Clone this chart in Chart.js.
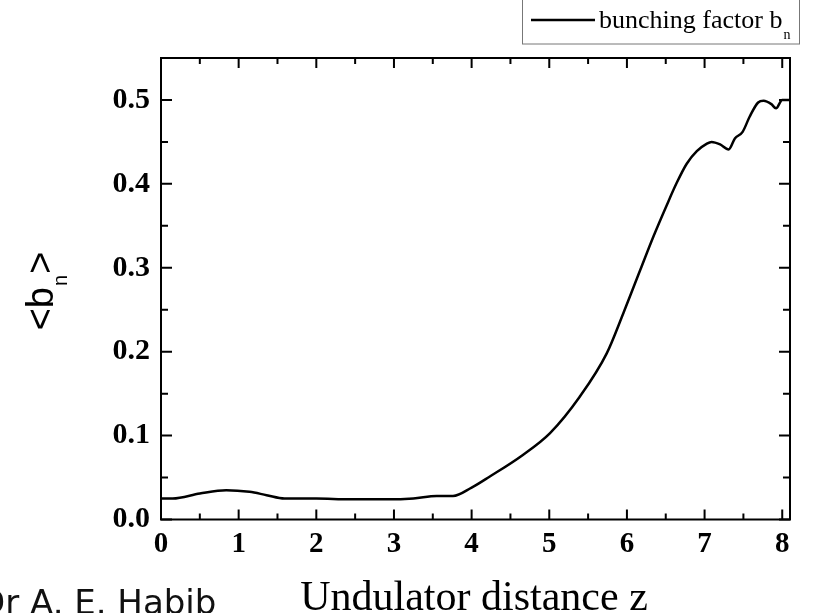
<!DOCTYPE html>
<html>
<head>
<meta charset="utf-8">
<script src="https://cdn.jsdelivr.net/npm/chart.js@4"></script>
<style>
  html, body { margin: 0; padding: 0; background: #fff; }
  #wrap { position: relative; width: 818px; height: 613px; }
</style>
</head>
<body>
<div id="wrap"><canvas id="chart" width="818" height="613"></canvas></div>
<script>
"use strict";

// undulator distance z and averaged bunching factor <b_n>
const zValues = [0, 0.15, 0.5, 0.84, 1.14, 1.36, 1.59, 2.0, 2.43, 2.9, 3.25, 3.55, 3.76, 4.0, 4.23,
    4.66, 5.01, 5.39, 5.74, 5.95, 6.17, 6.34, 6.51, 6.64, 6.77, 6.9, 7.03, 7.09, 7.2, 7.31, 7.39,
    7.49, 7.58, 7.69, 7.76, 7.86, 7.92, 8.0, 8.1];
const bValues = [0.025, 0.025, 0.031, 0.035, 0.033, 0.029, 0.025, 0.025, 0.024, 0.024, 0.025, 0.028, 0.028, 0.038, 0.051,
    0.077, 0.103, 0.146, 0.198, 0.245, 0.297, 0.337, 0.374, 0.401, 0.424, 0.439, 0.448, 0.45, 0.447, 0.441, 0.454,
    0.462, 0.48, 0.497, 0.499, 0.495, 0.49, 0.5, 0.5];

const xTicks = [0, 1, 2, 3, 4, 5, 6, 7, 8];
const yTicks = [0.0, 0.1, 0.2, 0.3, 0.4, 0.5];
const xMinorStep = 0.5;
const yMinorStep = 0.05;

const seriesLabel = 'bunching factor b';
const xTitle = 'Undulator distance z';

// frame, inside ticks, titles and legend
const framePlugin = {
    id: 'frame',
    afterDraw(chart) {
        const ctx = chart.ctx;
        const a = chart.chartArea;
        const xs = chart.scales.x, ys = chart.scales.y;
        ctx.save();
        ctx.strokeStyle = '#000';
        ctx.lineWidth = 2;
        ctx.strokeRect(a.left, a.top, a.right - a.left, a.bottom - a.top);

        ctx.beginPath();
        for (let v = 0; v <= xs.max + 1e-9; v += xMinorStep) {
            const px = xs.getPixelForValue(v);
            const len = Math.abs(v - Math.round(v)) < 1e-6 ? 10 : 6;
            ctx.moveTo(px, a.bottom); ctx.lineTo(px, a.bottom - len);
            ctx.moveTo(px, a.top); ctx.lineTo(px, a.top + len);
        }
        for (let v = 0; v <= ys.max + 1e-9; v += yMinorStep) {
            const py = ys.getPixelForValue(v);
            const major = Math.abs(v * 10 - Math.round(v * 10)) < 1e-6;
            const len = major ? 11 : 7;
            ctx.moveTo(a.left, py); ctx.lineTo(a.left + len, py);
            ctx.moveTo(a.right, py); ctx.lineTo(a.right - len, py);
        }
        ctx.stroke();

        // x title
        ctx.fillStyle = '#000';
        ctx.font = '42px "Liberation Serif"';
        ctx.textAlign = 'center';
        ctx.textBaseline = 'alphabetic';
        ctx.fillText(xTitle, 474, 610);

        // y title <b_n>, rotated
        ctx.save();
        ctx.translate(53, 292);
        ctx.rotate(-Math.PI / 2);
        const big = '38px "Liberation Sans"', small = '20px "Liberation Sans"';
        ctx.font = big;
        const w1 = ctx.measureText('<b').width;
        const w3 = ctx.measureText('>').width;
        ctx.font = small;
        const w2 = ctx.measureText('n').width;
        const x0 = -(w1 + w2 + w3) / 2;
        ctx.textAlign = 'left';
        ctx.font = big;
        ctx.fillText('<b', x0, 0);
        ctx.font = small;
        ctx.fillText('n', x0 + w1 + 1, 14);
        ctx.font = big;
        ctx.fillText('>', x0 + w1 + w2 + 2, 0);
        ctx.restore();

        // legend box
        ctx.strokeStyle = '#777';
        ctx.lineWidth = 1;
        ctx.strokeRect(522.5, -5, 277, 49);
        ctx.strokeStyle = '#000';
        ctx.lineWidth = 2.5;
        ctx.beginPath();
        ctx.moveTo(531, 20); ctx.lineTo(595, 20);
        ctx.stroke();
        ctx.font = '26px "Liberation Serif"';
        ctx.textAlign = 'left';
        ctx.fillText(seriesLabel, 599, 28);
        const lw = ctx.measureText(seriesLabel).width;
        ctx.font = '14px "Liberation Serif"';
        ctx.fillText('n', 599 + lw + 1, 39);

        // author credit cut off at the bottom
        ctx.font = '34px "DejaVu Sans"';
        ctx.fillStyle = '#111';
        ctx.fillText('Dr A. E. Habib', -21, 614);
        ctx.restore();
    }
};

const ctx = document.getElementById('chart').getContext('2d');

new Chart(ctx, {
    type: 'line',
    data: {
        datasets: [{
            label: seriesLabel,
            data: zValues.map((z, i) => ({ x: z, y: bValues[i] })),
            borderColor: '#000',
            borderWidth: 2.5,
            pointRadius: 0,
            fill: false,
            cubicInterpolationMode: 'monotone'
        }]
    },
    options: {
        responsive: false,
        animation: false,
        layout: { padding: { top: 58, right: 28, left: 0, bottom: 0 } },
        plugins: {
            legend: { display: false },
            tooltip: { enabled: false }
        },
        scales: {
            x: {
                type: 'linear',
                min: 0,
                max: 8.1,
                grid: { display: false, drawTicks: false },
                border: { display: false },
                afterBuildTicks: scale => { scale.ticks = xTicks.map(v => ({ value: v })); },
                afterFit: scale => { scale.height = 93.5; },
                ticks: {
                    color: '#000',
                    padding: 8,
                    maxRotation: 0,
                    autoSkip: false,
                    font: { family: 'Liberation Serif', size: 29, weight: 'bold' },
                    callback: v => String(v)
                }
            },
            y: {
                type: 'linear',
                min: 0,
                max: 0.55,
                grid: { display: false, drawTicks: false },
                border: { display: false },
                afterBuildTicks: scale => { scale.ticks = yTicks.map(v => ({ value: v })); },
                afterFit: scale => { scale.width = 161; },
                ticks: {
                    color: '#000',
                    padding: 11,
                    autoSkip: false,
                    font: { family: 'Liberation Serif', size: 30, weight: 'bold' },
                    callback: v => Number(v).toFixed(1)
                }
            }
        }
    },
    plugins: [framePlugin]
});
</script>
</body>
</html>
